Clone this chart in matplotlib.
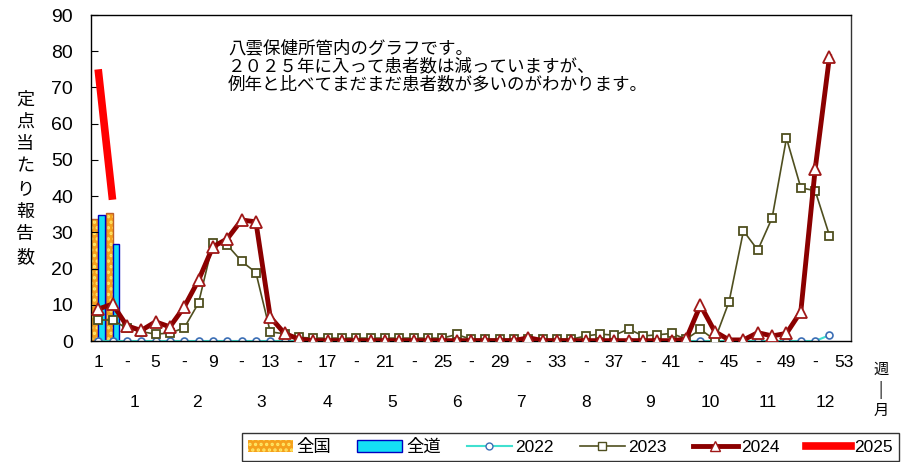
import numpy as np
import matplotlib
matplotlib.use("Agg")
import matplotlib.pyplot as plt
from matplotlib import font_manager
from matplotlib.patches import Patch
from matplotlib.lines import Line2D

# weekly data
weeks = np.arange(1, 53)
y2022 = [0.0] * 51 + [1.6]
y2023 = [5.8, 5.8, 3.5, 2.6, 1.9, 2.2, 3.6, 10.5, 27.0, 26.5, 22.0, 18.9, 2.5,
         2.0, 1.0, 0.8, 0.8, 0.8, 0.8, 0.8, 0.8, 0.8, 0.8, 0.8, 0.8, 1.8,
         0.5, 0.5, 0.5, 0.5, 0.5, 0.5, 0.5, 0.5, 1.4, 1.9, 1.6, 3.3, 1.4,
         1.7, 2.1, 0.5, 3.2, 0.3, 10.9, 30.4, 25.1, 34.0, 56.0, 42.3, 41.5, 29.1]
y2024 = [8.8, 10.2, 4.2, 2.9, 5.3, 3.9, 9.4, 16.8, 26.0, 28.2, 33.4, 32.9, 6.6,
         2.1, 0.5, 0.1, 0.1, 0.1, 0.1, 0.1, 0.1, 0.1, 0.1, 0.1, 0.1, 0.1,
         0.1, 0.1, 0.1, 0.1, 0.9, 0.1, 0.1, 0.1, 0.1, 0.1, 0.1, 0.1, 0.1,
         0.1, 0.1, 0.5, 9.9, 2.6, 0.3, 0.3, 2.3, 1.4, 2.1, 8.1, 47.4, 78.5]
weeks_2025 = [1, 2]
y2025 = [75.0, 39.0]
zenkoku = [33.8, 35.2]   # 全国
zendo = [34.7, 26.9]     # 全道

month_labels = ["1", "2", "3", "4", "5", "6", "7", "8", "9", "10", "11", "12"]
month_pos = [3.5, 7.9, 12.4, 17.0, 21.5, 26.0, 30.5, 35.0, 39.5, 43.7, 47.7, 51.7]
note = ("八雲保健所管内のグラフです。\n"
        "２０２５年に入って患者数は減っていますが、\n"
        "例年と比べてまだまだ患者数が多いのがわかります。")

installed = {f.name for f in font_manager.fontManager.ttflist}
narrow = "Liberation Sans Narrow" if "Liberation Sans Narrow" in installed else "Liberation Sans"
plt.rcParams["font.family"] = [narrow, "Noto Sans CJK JP", "DejaVu Sans"]
plt.rcParams["hatch.linewidth"] = 1.6

fig = plt.figure(figsize=(9.01, 4.62), dpi=100)
ax = fig.add_axes([91 / 901, 1 - 341 / 462, 760 / 901, 326 / 462])

bw = 0.48
bx = np.array(weeks_2025)
ax.bar(bx - bw / 2, zenkoku, width=bw, color="#F5A11C", edgecolor="#FFE866",
       hatch="...", linewidth=0, zorder=1)
ax.bar(bx - bw / 2, zenkoku, width=bw, fill=False, edgecolor="#C0602A",
       linewidth=1.0, zorder=1)
ax.bar(bx + bw / 2, zendo, width=bw, color="#14E0F5", edgecolor="#0000C0",
       linewidth=1.0, zorder=1)

ax.plot(weeks, y2022, color="#40E0D0", lw=1.5, marker="o", ms=5, mfc="white",
        mec="#3B6EB5", mew=1.2, zorder=2)
ax.plot(weeks, y2023, color="#4F4F1F", lw=1.2, marker="s", ms=6, mfc="white",
        mec="#4F4F1F", mew=1.3, zorder=3)
ax.plot(weeks, y2024, color="#8B0000", lw=3.5, marker="^", ms=8, mfc="white",
        mec="#A01818", mew=1.3, zorder=4)
ax.plot(weeks_2025, y2025, color="#FF0000", lw=5.5, solid_capstyle="butt", zorder=5)

ax.set_xlim(0.5, 53.5)
ax.set_ylim(0, 90)
ax.set_yticks(np.arange(0, 91, 10))
ax.tick_params(axis="y", direction="in", length=5, pad=13, labelsize=14)
xt = np.arange(1, 54, 2)
ax.set_xticks(xt)
ax.set_xticklabels([str(w) if (w - 1) % 4 == 0 else "-" for w in xt])
ax.tick_params(axis="x", length=0, pad=10, labelsize=12.5)
for s in ax.spines.values():
    s.set_linewidth(1.0)
ax.spines["right"].set_color("#333333")

for lab, p in zip(month_labels, month_pos):
    ax.text(p, -0.19, lab, transform=ax.get_xaxis_transform(), ha="center",
            va="center", fontsize=12.5)

ax.text(228 / 901, 1 - 39 / 462, note, transform=fig.transFigure, ha="left",
        va="top", fontsize=12.6, linespacing=1.0, family="Noto Sans CJK JP")

fig.text(25 / 901, 1 - 178 / 462, "\n".join("定点当たり報告数"), ha="center",
         va="center", fontsize=13, linespacing=1.32, family="Noto Sans CJK JP")
fig.text(881 / 901, 1 - 390 / 462, "週\n|\n月", ha="center", va="center",
         fontsize=11, linespacing=1.2, family="Noto Sans CJK JP")

handles = [
    Patch(facecolor="#F5A11C", edgecolor="#FFE866", hatch="...", linewidth=0),
    Patch(facecolor="#14E0F5", edgecolor="#0000C0", linewidth=1.0),
    Line2D([], [], color="#40E0D0", lw=1.5, marker="o", ms=5, mfc="white", mec="#3B6EB5"),
    Line2D([], [], color="#4F4F1F", lw=1.2, marker="s", ms=6, mfc="white", mec="#4F4F1F"),
    Line2D([], [], color="#8B0000", lw=3.5, marker="^", ms=7, mfc="white", mec="#A01818"),
    Line2D([], [], color="#FF0000", lw=5.5),
]
labels = ["全国", "全道", "2022", "2023", "2024", "2025"]
leg = fig.legend(handles, labels, loc="upper left",
                 bbox_to_anchor=(242 / 901, 0, 657 / 901, 1 - 433 / 462),
                 mode="expand", ncol=6, fontsize=12.5, frameon=True, fancybox=False,
                 edgecolor="black", borderaxespad=0, handlelength=2.6,
                 handletextpad=0.2, columnspacing=0.8, borderpad=0.35)
leg.get_frame().set_linewidth(1.0)

fig.savefig("out.png", dpi=100)
